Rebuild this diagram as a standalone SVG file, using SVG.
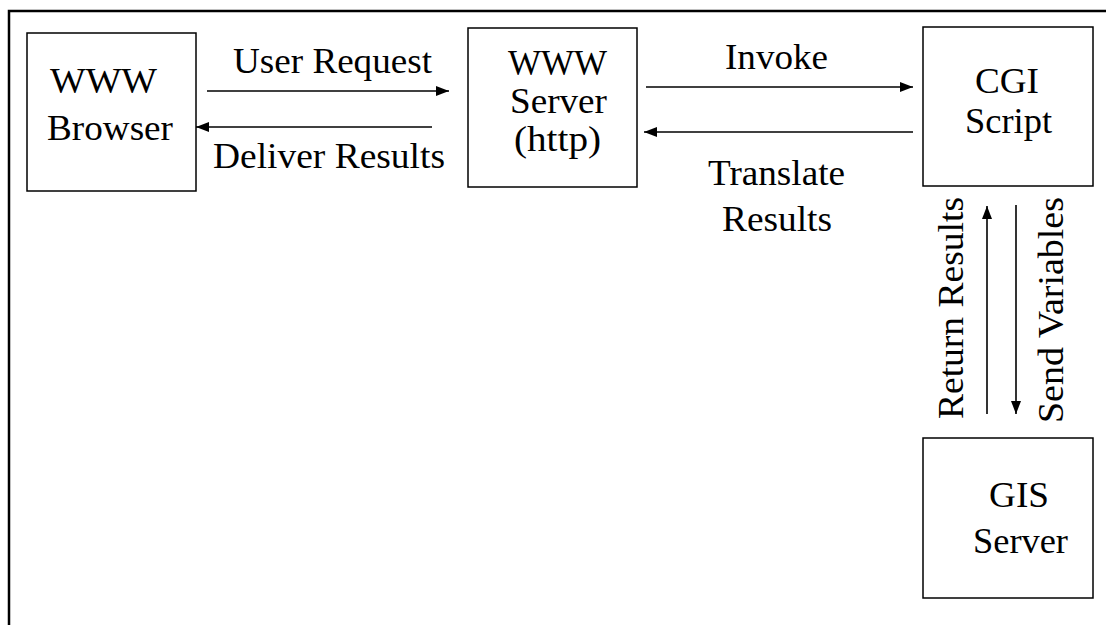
<svg xmlns="http://www.w3.org/2000/svg" width="1106" height="625" viewBox="0 0 1106 625">
  <style>
    .box { fill: #ffffff; stroke: #000000; stroke-width: 1.5; }
    .wire { stroke: #000000; stroke-width: 1.6; fill: none; }
    .frame { stroke: #000000; stroke-width: 2.5; fill: none; }
  </style>
  <defs>
    <marker id="head" viewBox="0 0 13 10" refX="13" refY="5" markerWidth="13" markerHeight="10" markerUnits="userSpaceOnUse" orient="auto">
      <path d="M0,0 L13,5 L0,10 Z" fill="#000000"/>
    </marker>
  </defs>
  <rect width="1106" height="625" fill="#ffffff"/>

  <!-- outer frame: top and left edges only -->
  <path class="frame" d="M9,625 L9,11 L1106,11"/>

  <g font-family="Liberation Serif, serif" font-size="35" fill="#000000">
    <g id="browser">
      <rect class="box" x="27" y="33" width="169" height="158"/>
      <text x="50" y="93" textLength="107" lengthAdjust="spacingAndGlyphs">WWW</text>
      <text x="47" y="140" textLength="126" lengthAdjust="spacingAndGlyphs">Browser</text>
    </g>

    <g id="www-server">
      <rect class="box" x="468" y="28" width="169" height="159"/>
      <text x="508" y="75" textLength="99" lengthAdjust="spacingAndGlyphs">WWW</text>
      <text x="510" y="113" textLength="97" lengthAdjust="spacingAndGlyphs">Server</text>
      <text x="514" y="151" textLength="87" lengthAdjust="spacingAndGlyphs">(http)</text>
    </g>

    <g id="cgi-script">
      <rect class="box" x="923" y="27" width="170" height="159"/>
      <text x="975" y="93" textLength="64" lengthAdjust="spacingAndGlyphs">CGI</text>
      <text x="965" y="133" textLength="87" lengthAdjust="spacingAndGlyphs">Script</text>
    </g>

    <g id="gis-server">
      <rect class="box" x="923" y="438" width="170" height="160"/>
      <text x="989" y="507" textLength="60" lengthAdjust="spacingAndGlyphs">GIS</text>
      <text x="973" y="553" textLength="95" lengthAdjust="spacingAndGlyphs">Server</text>
    </g>

    <g id="connectors">
      <line class="wire" x1="207" y1="91" x2="449" y2="91" marker-end="url(#head)"/>
      <line class="wire" x1="432" y1="127" x2="196" y2="127" marker-end="url(#head)"/>
      <line class="wire" x1="646" y1="87" x2="913" y2="87" marker-end="url(#head)"/>
      <line class="wire" x1="913" y1="132" x2="644" y2="132" marker-end="url(#head)"/>
      <line class="wire" x1="987" y1="414" x2="987" y2="206" marker-end="url(#head)"/>
      <line class="wire" x1="1016" y1="205" x2="1016" y2="414" marker-end="url(#head)"/>

      <text x="233" y="73" textLength="199" lengthAdjust="spacingAndGlyphs">User Request</text>
      <text x="213" y="168" textLength="232" lengthAdjust="spacingAndGlyphs">Deliver Results</text>
      <text x="725" y="69" textLength="103" lengthAdjust="spacingAndGlyphs">Invoke</text>
      <text x="708" y="185" textLength="137" lengthAdjust="spacingAndGlyphs">Translate</text>
      <text x="722" y="231" textLength="110" lengthAdjust="spacingAndGlyphs">Results</text>
      <text transform="translate(963,419) rotate(-90)" textLength="222" lengthAdjust="spacingAndGlyphs">Return Results</text>
      <text transform="translate(1063,423) rotate(-90)" textLength="226" lengthAdjust="spacingAndGlyphs">Send Variables</text>
    </g>
  </g>
</svg>
